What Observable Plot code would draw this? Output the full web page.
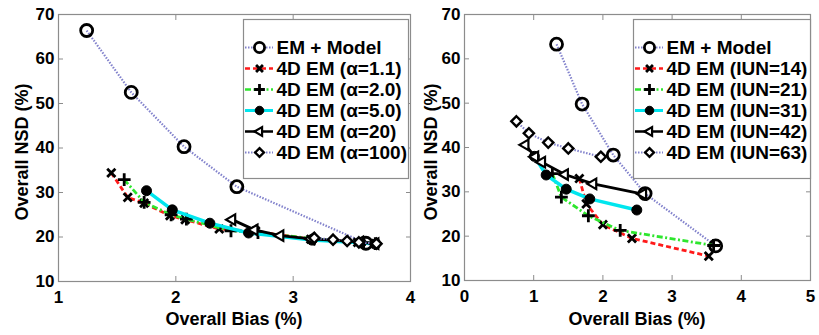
<!DOCTYPE html>
<html><head><meta charset="utf-8">
<script src="https://cdn.jsdelivr.net/npm/d3@7"></script>
<script src="https://cdn.jsdelivr.net/npm/@observablehq/plot@0.6"></script>
<style>
body{margin:0;background:#fff;}
#wrap{position:relative;width:819px;height:335px;overflow:hidden;font-family:"Liberation Sans",Arial,sans-serif;}
#wrap > div{position:absolute;}
#wrap svg{overflow:visible;}
.lab{font-weight:bold;font-size:18px;color:#000;white-space:nowrap;}
</style></head><body><div id="wrap"></div>
<script>
// ---------- data ----------
const xTicksLeft = [1, 2, 3, 4];
const xTicksRight = [0, 1, 2, 3, 4, 5];
const yTicks = [10, 20, 30, 40, 50, 60, 70];
const xLabel = "Overall Bias (%)";
const yLabel = "Overall NSD (%)";

const leftNames = ["EM + Model", "4D EM (α=1.1)", "4D EM (α=2.0)", "4D EM (α=5.0)", "4D EM (α=20)", "4D EM (α=100)"];
const rightNames = ["EM + Model", "4D EM (IUN=14)", "4D EM (IUN=21)", "4D EM (IUN=31)", "4D EM (IUN=42)", "4D EM (IUN=63)"];

// left panel  [bias, nsd]
const leftEM    = [[1.24,66.4],[1.62,52.5],[2.07,40.3],[2.52,31.3],[3.62,18.6]];
const leftA1_1  = [[1.45,34.4],[1.59,28.9],[1.73,27.6],[1.95,24.8],[2.08,23.9],[2.37,21.8],[2.68,21.3],[3.15,19.5],[3.55,18.8],[3.70,18.5]];
const leftA2_0  = [[1.56,32.9],[1.73,27.8],[1.96,25.0],[2.09,24.0],[2.47,21.4],[2.70,21.0],[3.18,19.6],[3.60,18.7],[3.70,18.5]];
const leftA5_0  = [[1.75,30.4],[1.97,26.1],[2.29,23.1],[2.62,20.9],[3.16,19.3],[3.58,18.7],[3.70,18.4]];
const leftA20   = [[2.48,23.9],[2.67,21.6],[2.89,20.3],[3.15,19.6],[3.57,18.9],[3.70,18.5]];
const leftA100  = [[3.18,19.8],[3.34,19.4],[3.46,19.1],[3.56,18.8],[3.71,18.5]];

// right panel
const rightEM    = [[1.33,63.3],[1.70,49.8],[2.15,38.3],[2.61,29.6],[3.63,17.8]];
const rightIUN14 = [[1.66,33.0],[1.76,27.3],[2.00,22.6],[2.42,19.5],[3.53,15.5]];
const rightIUN21 = [[1.27,34.1],[1.40,28.8],[1.79,24.6],[2.25,21.3],[3.60,17.9]];
const rightIUN31 = [[1.01,38.0],[1.18,33.8],[1.47,30.6],[1.81,28.4],[2.49,25.9]];
const rightIUN42 = [[0.88,40.6],[1.02,37.9],[1.12,36.7],[1.45,33.9],[1.86,31.8],[2.58,29.5]];
const rightIUN63 = [[0.75,45.9],[0.93,43.2],[1.21,41.1],[1.50,39.8],[1.97,37.9]];

const leftSeries = [leftEM, leftA1_1, leftA2_0, leftA5_0, leftA20, leftA100];
const rightSeries = [rightEM, rightIUN14, rightIUN21, rightIUN31, rightIUN42, rightIUN63];

// ---------- styles ----------
const styles = [
  {line:"#8282cc", lw:2.2, dash:"1.5,1.5",     symbol:"circle",   fill:"none",  r:6,   mw:2.8},
  {line:"#ff1a1a", lw:2.8, dash:"5,3",         symbol:"times",    fill:"none",  r:3.8, mw:2.8},
  {line:"#2ee62e", lw:2.8, dash:"6,2.5,2,2.5", symbol:"plus",     fill:"none",  r:4.2, mw:2.8},
  {line:"#00e6ee", lw:3.4, dash:null,          symbol:"circle",   fill:"black", r:5,   mw:1},
  {line:"#000000", lw:2.8, dash:null,          symbol:"triangle", fill:"white", r:3.9, mw:2.2, rotate:-90},
  {line:"#8282cc", lw:2.2, dash:"1.5,1.5",     symbol:"diamond2", fill:"white", r:4.6, mw:2.4}
];

const axisGray = "#8c8c8c";
const tickFont = {fontSize:17, fontWeight:"bold", fill:"black"};
const fmt = d => String(d);

function seriesMarks(series){
  const marks = [];
  series.forEach((data, i) => {
    const s = styles[i];
    marks.push(Plot.line(data, {x: d => d[0], y: d => d[1], stroke: s.line, strokeWidth: s.lw, strokeDasharray: s.dash, strokeLinecap: "butt", strokeLinejoin: "round"}));
    marks.push(Plot.dot(data, {x: d => d[0], y: d => d[1], symbol: s.symbol, r: s.r, stroke: "black", fill: s.fill, strokeWidth: s.mw, rotate: s.rotate || 0}));
  });
  return marks;
}

function panel(series, xTicks, opts){
  return Plot.plot({
    width: opts.width, height: 335,
    marginLeft: opts.ml, marginRight: opts.mr, marginTop: 14, marginBottom: opts.mb,
    style: {background: "transparent", fontFamily: "'Liberation Sans', Arial, sans-serif", overflow: "visible"},
    x: {domain: [xTicks[0], xTicks[xTicks.length - 1]]},
    y: {domain: [10, 70]},
    marks: [
      Plot.frame({stroke: axisGray, strokeWidth: 1.2}),
      Plot.axisX(xTicks, {anchor: "bottom", tickSize: -5, stroke: axisGray, tickFormat: () => "", label: null}),
      Plot.axisX(xTicks, {anchor: "top", tickSize: -5, stroke: axisGray, tickFormat: () => "", label: null}),
      Plot.axisY(yTicks, {anchor: "left", tickSize: -5, stroke: axisGray, tickFormat: () => "", label: null}),
      Plot.axisY(yTicks, {anchor: "right", tickSize: -5, stroke: axisGray, tickFormat: () => "", label: null}),
      Plot.axisX(xTicks, {anchor: "bottom", tickSize: 0, tickPadding: 9, label: null, tickFormat: fmt, ...tickFont}),
      Plot.axisY(yTicks, {anchor: "left", tickSize: 0, tickPadding: 4, label: null, tickFormat: fmt, ...tickFont}),
      ...seriesMarks(series)
    ]
  });
}

function legend(names, width){
  const h = 159;
  const marks = [Plot.frame({stroke: axisGray, strokeWidth: 1.2, fill: "white"})];
  names.forEach((n, i) => {
    const s = styles[i];
    marks.push(Plot.ruleY([n], {y: d => d, x1: 2, x2: 30, stroke: s.line, strokeWidth: s.lw * 0.9, strokeDasharray: s.dash, strokeLinecap: "butt"}));
    marks.push(Plot.dot([n], {y: d => d, x: 16, symbol: s.symbol, r: s.r * 0.85, stroke: "black", fill: s.fill === "none" ? "white" : s.fill, strokeWidth: s.mw, rotate: s.rotate || 0}));
    marks.push(Plot.text([n], {y: d => d, x: 33, text: d => d, textAnchor: "start", fontSize: 19, fontWeight: "bold", fill: "black"}));
  });
  return Plot.plot({
    width, height: h, margin: 0,
    style: {background: "transparent", fontFamily: "'Liberation Sans', Arial, sans-serif"},
    x: {type: "linear", domain: [0, width], range: [0, width], axis: null},
    y: {type: "point", domain: names, range: [16, 144], axis: null},
    marks
  });
}

const wrap = document.getElementById("wrap");
function place(el, left, top){ const d = document.createElement("div"); d.style.left = left + "px"; d.style.top = top + "px"; d.appendChild(el); wrap.appendChild(d); return d; }

place(panel(leftSeries, xTicksLeft, {width: 415, ml: 58, mr: 5, mb: 54}), 0, 0);
place(panel(rightSeries, xTicksRight, {width: 404, ml: 49, mr: 9, mb: 55}), 415, 0);
place(legend(leftNames, 165), 243, 19);
place(legend(rightNames, 177), 633, 19);

function label(text, cx, cy, rotate){
  const d = document.createElement("div");
  d.className = "lab";
  d.textContent = text;
  d.style.left = cx + "px"; d.style.top = cy + "px";
  d.style.transform = "translate(-50%,-50%)" + (rotate ? " rotate(-90deg)" : "");
  wrap.appendChild(d);
}
label(xLabel, 234, 319, false);
label(xLabel, 637, 319, false);
label(yLabel, 22, 152, true);
label(yLabel, 431, 152, true);
</script></body></html>
